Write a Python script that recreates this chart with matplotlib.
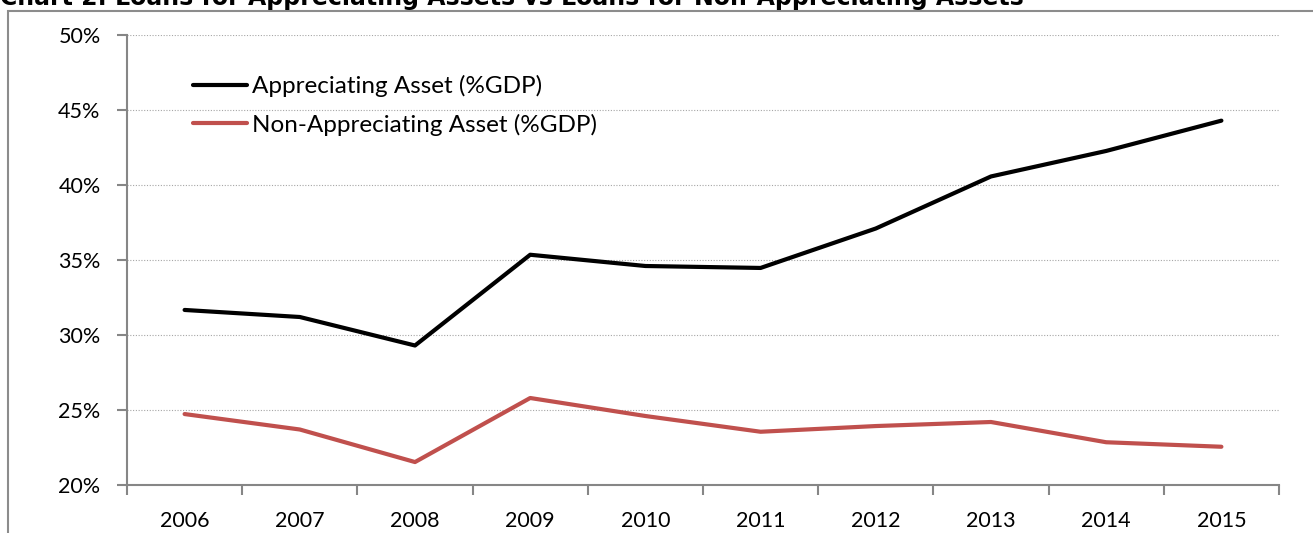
import numpy as np
import matplotlib.pyplot as plt
from matplotlib.patches import Rectangle
from matplotlib.ticker import FuncFormatter

years = ["2006", "2007", "2008", "2009", "2010", "2011", "2012", "2013", "2014", "2015"]
appreciating = [31.67, 31.2, 29.3, 35.35, 34.6, 34.47, 37.1, 40.57, 42.27, 44.29]
non_appreciating = [24.73, 23.7, 21.53, 25.8, 24.6, 23.55, 23.93, 24.2, 22.85, 22.55]

W, H = 1313, 533
fig = plt.figure(figsize=(W / 100, H / 100), dpi=100)
plt.rcParams['font.family'] = ['Lato', 'DejaVu Sans']

# outer chart frame (runs off the right and bottom edges)
fig.patches.append(Rectangle((8 / W, -0.1), 1.2, (H - 11) / H + 0.1, transform=fig.transFigure,
                             fill=False, edgecolor='#8c8c8c', linewidth=1.5))

fig.text(0.0, 1 - 5 / H, "Chart 2: Loans for Appreciating Assets vs Loans for Non-Appreciating Assets",
         fontsize=17, fontweight='bold', family='DejaVu Sans', va='baseline', ha='left')

ax = fig.add_axes([127 / W, (H - 485) / H, (1279 - 127) / W, (485 - 35) / H])
x = np.arange(len(years))
ax.plot(x, appreciating, color='black', linewidth=3, solid_capstyle='round',
        label="Appreciating Asset (%GDP)")
ax.plot(x, non_appreciating, color='#C0504D', linewidth=3, solid_capstyle='round',
        label="Non-Appreciating Asset (%GDP)")

ax.set_xlim(-0.5, len(years) - 0.5)
ax.set_ylim(20, 50)
ax.set_yticks(np.arange(20, 51, 5))
ax.yaxis.set_major_formatter(FuncFormatter(lambda v, p: f"{v:.0f}%"))
ax.set_xticks(np.arange(-0.5, len(years), 1))
ax.set_xticklabels([])
ax.set_xticks(x, minor=True)
ax.set_xticklabels(years, minor=True)
ax.tick_params(axis='x', which='major', length=7, width=1.5, color='#868686', direction='out')
ax.tick_params(axis='x', which='minor', length=0, pad=19, labelsize=15.5)
ax.tick_params(axis='y', length=7, width=1.5, color='#868686', direction='out', pad=12, labelsize=15.5)

ax.grid(axis='y', linestyle=(0, (1, 1.5)), color='#a6a6a6', linewidth=0.8)
ax.set_axisbelow(True)
for s in ['top', 'right']:
    ax.spines[s].set_visible(False)
for s in ['left', 'bottom']:
    ax.spines[s].set_color('#868686')
    ax.spines[s].set_linewidth(1.5)

leg = ax.legend(loc='upper left', bbox_to_anchor=(66 / 1152, 1 - 40 / 450), frameon=False,
                fontsize=17.5, handlelength=2.22, handletextpad=0.2, labelspacing=0.68,
                borderaxespad=0, borderpad=0)

fig.savefig("out.png", dpi=100)
